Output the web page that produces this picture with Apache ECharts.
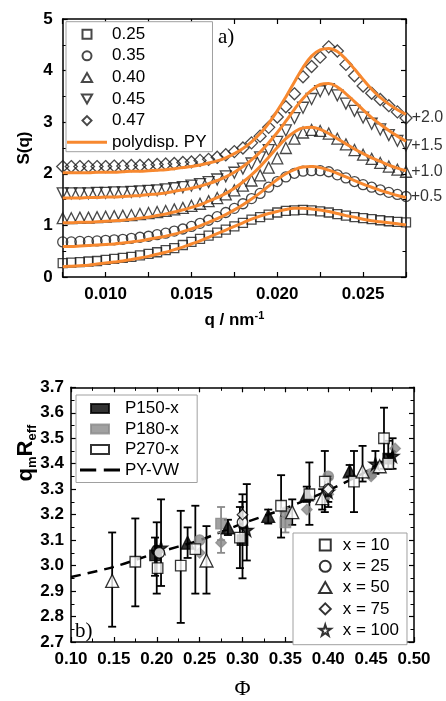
<!DOCTYPE html>
<html><head><meta charset="utf-8">
<script src="https://cdn.jsdelivr.net/npm/echarts@6/dist/echarts.min.js"></script>
<style>html,body{margin:0;padding:0;background:#fff}#c{width:446px;height:701px}</style>
</head><body><div id="c"></div>
<script>
// ---------- Panel a) data ----------
const q = [0.0075,0.0080,0.0085,0.0090,0.0095,0.0100,0.0105,0.0110,0.0115,0.0120,0.0125,0.0130,0.0135,0.0140,0.0145,0.0150,0.0155,0.0160,0.0165,0.0170,0.0175,0.0180,0.0185,0.0190,0.0195,0.0200,0.0205,0.0210,0.0215,0.0220,0.0225,0.0230,0.0235,0.0240,0.0245,0.0250,0.0255,0.0260,0.0265,0.0270,0.0275];
const s025 = [0.27,0.28,0.29,0.30,0.31,0.33,0.35,0.37,0.39,0.42,0.45,0.48,0.52,0.56,0.62,0.68,0.74,0.80,0.86,0.92,0.98,1.05,1.11,1.16,1.21,1.25,1.28,1.29,1.30,1.29,1.27,1.25,1.22,1.19,1.16,1.14,1.12,1.10,1.08,1.07,1.06];
const f025 = [0.20,0.21,0.22,0.23,0.25,0.27,0.29,0.31,0.34,0.37,0.40,0.44,0.48,0.53,0.58,0.64,0.70,0.77,0.84,0.91,0.98,1.05,1.12,1.18,1.23,1.27,1.31,1.33,1.33,1.32,1.30,1.27,1.23,1.19,1.16,1.12,1.09,1.07,1.05,1.03,1.01];
const s035 = [0.68,0.68,0.69,0.69,0.70,0.71,0.72,0.73,0.75,0.77,0.79,0.82,0.85,0.89,0.93,0.98,1.04,1.10,1.17,1.25,1.33,1.42,1.52,1.62,1.74,1.85,1.94,2.01,2.05,2.06,2.06,2.04,1.98,1.92,1.85,1.79,1.74,1.69,1.64,1.60,1.56];
const f035 = [0.59,0.59,0.60,0.61,0.62,0.63,0.64,0.66,0.68,0.70,0.73,0.76,0.79,0.83,0.88,0.93,0.99,1.06,1.13,1.21,1.30,1.40,1.51,1.63,1.76,1.89,2.00,2.08,2.13,2.14,2.12,2.07,2.01,1.94,1.87,1.80,1.74,1.68,1.63,1.58,1.54];
const s040 = [1.14,1.14,1.15,1.15,1.16,1.17,1.18,1.19,1.20,1.22,1.24,1.26,1.28,1.31,1.34,1.38,1.42,1.47,1.53,1.60,1.68,1.77,1.87,1.97,2.12,2.30,2.50,2.68,2.80,2.85,2.83,2.78,2.68,2.57,2.46,2.37,2.29,2.21,2.14,2.08,2.04];
const f040 = [1.05,1.05,1.06,1.06,1.07,1.08,1.09,1.10,1.12,1.14,1.16,1.19,1.22,1.26,1.30,1.35,1.40,1.47,1.54,1.62,1.72,1.84,1.98,2.14,2.32,2.51,2.68,2.81,2.89,2.90,2.86,2.78,2.68,2.58,2.48,2.39,2.31,2.24,2.17,2.11,2.06];
const s045 = [1.62,1.62,1.62,1.62,1.63,1.63,1.64,1.64,1.65,1.66,1.67,1.68,1.70,1.72,1.74,1.77,1.80,1.84,1.89,1.95,2.02,2.10,2.20,2.32,2.46,2.62,2.84,3.08,3.28,3.45,3.60,3.64,3.52,3.36,3.22,3.09,2.97,2.86,2.75,2.64,2.55];
const f045 = [1.53,1.53,1.53,1.54,1.54,1.55,1.55,1.56,1.57,1.58,1.60,1.61,1.63,1.66,1.69,1.72,1.76,1.81,1.87,1.94,2.03,2.14,2.27,2.42,2.60,2.80,3.02,3.25,3.46,3.62,3.73,3.75,3.68,3.55,3.40,3.24,3.09,2.96,2.84,2.73,2.63];
const s047 = [2.14,2.14,2.14,2.14,2.14,2.14,2.15,2.15,2.16,2.16,2.17,2.18,2.19,2.20,2.22,2.23,2.26,2.28,2.32,2.37,2.43,2.50,2.60,2.73,2.90,3.10,3.30,3.55,3.88,4.08,4.26,4.46,4.38,4.12,3.90,3.70,3.56,3.44,3.32,3.20,3.08];
const f047 = [2.02,2.02,2.02,2.02,2.03,2.03,2.03,2.04,2.05,2.05,2.06,2.07,2.08,2.10,2.12,2.14,2.17,2.21,2.25,2.31,2.39,2.49,2.62,2.78,2.98,3.22,3.49,3.78,4.06,4.28,4.40,4.43,4.37,4.22,4.03,3.83,3.64,3.48,3.35,3.24,3.15];
const phiNames = ['0.25','0.35','0.40','0.45','0.47'];
const offsetLabels = ['', '+0.5', '+1.0', '+1.5', '+2.0'];
const fitName = 'polydisp. PY';

// ---------- Panel b) data: [phi, qmReff, errLow, errHigh] ----------
const p270_x10 = [[0.175,3.015,2.84,3.185],[0.201,2.99,null,null],[0.228,3.00,2.775,3.215],[0.245,3.065,2.89,3.235],[0.297,3.11,2.99,3.23],[0.345,3.235,3.11,3.355],[0.378,3.28,3.16,3.405],[0.396,3.33,3.21,3.45],[0.43,3.33,3.21,3.45],[0.465,3.50,3.38,3.62],[0.47,3.40,null,null]];
const p270_x25 = [[0.203,3.05,null,null],[0.30,3.17,null,null],[0.40,3.30,null,null]];
const p270_x50 = [[0.148,2.94,2.76,3.13],[0.258,3.02,2.89,3.155],[0.358,3.21,3.16,3.26],[0.393,3.265,3.22,3.30],[0.44,3.37,3.33,3.47],[0.46,3.39,null,null]];
const p270_x75 = [[0.30,3.20,3.15,3.25],[0.40,3.30,3.25,3.35]];
const p150_x10 = [[0.198,3.04,2.96,3.11],[0.30,3.10,2.95,3.28],[0.47,3.42,3.38,3.49]];
const p150_x25 = [[0.20,3.06,2.89,3.17]];
const p150_x50 = [[0.236,3.09,3.03,3.15],[0.283,3.15,3.12,3.18],[0.33,3.195,3.165,3.22],[0.375,3.28,3.25,3.31],[0.425,3.37,3.35,3.395]];
const p150_x100 = [[0.205,3.07,2.92,3.26],[0.305,3.14,3.02,3.32],[0.40,3.29,3.23,3.34],[0.455,3.40,3.36,3.45],[0.475,3.43,3.38,3.50]];
const p180_x10 = [[0.275,3.165,3.10,3.23],[0.35,3.17,3.13,3.21]];
const p180_x25 = [[0.25,3.10,null,null],[0.35,3.21,null,null],[0.40,3.35,null,null],[0.45,3.36,null,null]];
const p180_x75 = [[0.25,3.05,null,null],[0.275,3.09,3.05,3.13],[0.375,3.22,null,null],[0.40,3.28,null,null],[0.45,3.35,null,null],[0.478,3.46,null,null]];
const pyPhi = [0.10,0.15,0.20,0.25,0.30,0.35,0.40,0.45,0.48];
const pyVal = [2.955,2.995,3.05,3.10,3.165,3.225,3.295,3.38,3.455];
const sampleNames = ['P150-x','P180-x','P270-x'];
const xNames = ['x = 10','x = 25','x = 50','x = 75','x = 100'];

// ---------- styling ----------
const FONT = 'Liberation Sans, Arial, sans-serif';
const SERIF = 'Liberation Serif, DejaVu Serif, serif';
const ORANGE = '#F7882F';
const GRAY = '#8a8a8a';
const STAR = 'path://M50,2 L61,37 L98,37 L68,59 L79,95 L50,73 L21,95 L32,59 L2,37 L39,37 Z';
const RECT = 'path://M0,0 L20,0 L20,10 L0,10 Z';
const SQ = 'path://M0,0 L10,0 L10,10 L0,10 Z';
const CIRC = 'path://M0,50 C0,22 22,0 50,0 C78,0 100,22 100,50 C100,78 78,100 50,100 C22,100 0,78 0,50 Z';
const TRIUP = 'path://M50,0 L100,88 L0,88 Z';
const TRIDN = 'path://M0,0 L100,0 L50,88 Z';
const DIAM = 'path://M50,0 L100,50 L50,100 L0,50 Z';
const LINEI = 'path://M0,0 L40,0 L40,3 L0,3 Z';
const DASHI = 'path://M0,0 L15,0 L15,2.6 L0,2.6 Z M22,0 L37,0 L37,2.6 L22,2.6 Z';
const shapes = {x10:'rect', x25:'circle', x50:'triangle', x75:'diamond', x100:STAR};

const chart = echarts.init(document.getElementById('c'), null, {renderer:'canvas'});

function mkX(grid, min, max, interval, minorSplit, pos, labels, fmt, name, nameGap, nameStyle) {
  return {
    gridIndex: grid, type: 'value', min, max, interval, position: pos,
    axisLine: {onZero: false, lineStyle: {color: '#000', width: 1.5}},
    axisTick: {show: true, inside: true, length: 5, lineStyle: {color: '#000', width: 1.2}},
    minorTick: {show: minorSplit > 0, splitNumber: minorSplit || 5, length: 3.5, lineStyle: {color: '#000', width: 1}},
    splitLine: {show: false}, minorSplitLine: {show: false},
    axisLabel: labels ? {show: true, formatter: fmt, fontSize: 17, fontWeight: 'bold', color: '#000', fontFamily: FONT, margin: labels} : {show: false},
    name: name || '', nameLocation: 'middle', nameGap: nameGap || 0, nameTextStyle: nameStyle || {}
  };
}

const qFmt = v => { const k = Math.round(v * 10000); return (k % 50 === 0) ? (k / 10000).toFixed(3) : ''; };

const xAxis = [
  mkX(0, 0.0075, 0.0275, 0.0025, 0, 'bottom', 9, qFmt, '{a|q / nm}{u|-1}', 33,
    {rich: {a: {fontSize: 17, fontWeight: 'bold', fontFamily: FONT, color: '#000', lineHeight: 20},
            u: {fontSize: 11, fontWeight: 'bold', fontFamily: FONT, color: '#000', verticalAlign: 'top', lineHeight: 20}}}),
  mkX(0, 0.0075, 0.0275, 0.0025, 0, 'top', 0),
  mkX(1, 0.10, 0.50, 0.05, 2, 'bottom', 9, v => v.toFixed(2), 'Φ', 36,
    {fontSize: 22, fontFamily: SERIF, color: '#000'}),
  mkX(1, 0.10, 0.50, 0.05, 2, 'top', 0)
];
const yAxis = [
  mkX(0, 0, 5, 1, 2, 'left', 10, v => String(Math.round(v)), 'S(q)', 24,
    {fontSize: 17, fontWeight: 'bold', fontFamily: FONT, color: '#000'}),
  mkX(0, 0, 5, 1, 2, 'right', 0),
  mkX(1, 2.7, 3.7, 0.1, 2, 'left', 7, v => v.toFixed(1)),
  mkX(1, 2.7, 3.7, 0.1, 2, 'right', 0)
];

const series = [];
// Panel a) scatter + fits
const sData = [s025, s035, s040, s045, s047];
const fData = [f025, f035, f040, f045, f047];
const topSym = ['rect', 'circle', 'triangle', 'triangle', 'diamond'];
const topRot = [0, 0, 0, 180, 0];
const topSize = [9, 10, 11, 11, 12];
sData.forEach((arr, k) => {
  series.push({
    type: 'scatter', name: phiNames[k], xAxisIndex: 0, yAxisIndex: 0,
    symbol: topSym[k], symbolRotate: topRot[k], symbolSize: topSize[k], z: 2,
    itemStyle: {color: 'rgba(255,255,255,0)', borderColor: '#1a1a1a', borderWidth: 1.3},
    emphasis: {disabled: true},
    data: q.map((x, i) => (i === q.length - 1 && offsetLabels[k]) ?
      {value: [x, arr[i]], label: {show: true, formatter: offsetLabels[k], position: 'right', distance: -1,
        fontSize: 16, color: '#000', fontFamily: FONT}} : [x, arr[i]])
  });
});
fData.forEach(arr => {
  series.push({
    type: 'line', name: fitName, xAxisIndex: 0, yAxisIndex: 0, smooth: 0.4, symbol: 'none', z: 4,
    lineStyle: {color: ORANGE, width: 3}, itemStyle: {color: ORANGE},
    data: q.map((x, i) => [x, arr[i]])
  });
});

// Panel b)
series.push({
  type: 'line', name: 'PY-VW', xAxisIndex: 2, yAxisIndex: 2, smooth: 0.3, symbol: 'none', z: 2,
  lineStyle: {color: '#000', width: 2.5, type: [10, 7]}, itemStyle: {color: '#000'},
  data: pyPhi.map((x, i) => [x, pyVal[i]])
});
const groups = [
  {d: p180_x10, shape: 'x10', fill: GRAY, stroke: GRAY, bar: GRAY},
  {d: p180_x25, shape: 'x25', fill: GRAY, stroke: GRAY, bar: GRAY},
  {d: p180_x75, shape: 'x75', fill: GRAY, stroke: GRAY, bar: GRAY},
  {d: p150_x10, shape: 'x10', fill: '#000', stroke: '#000', bar: '#000'},
  {d: p150_x25, shape: 'x25', fill: '#000', stroke: '#000', bar: '#000'},
  {d: p150_x50, shape: 'x50', fill: '#000', stroke: '#000', bar: '#000'},
  {d: p150_x100, shape: 'x100', fill: '#000', stroke: '#000', bar: '#000'},
  {d: p270_x10, shape: 'x10', fill: '#fff', stroke: '#000', bar: '#000'},
  {d: p270_x25, shape: 'x25', fill: '#fff', stroke: '#000', bar: '#000'},
  {d: p270_x50, shape: 'x50', fill: '#fff', stroke: '#000', bar: '#000'},
  {d: p270_x75, shape: 'x75', fill: '#fff', stroke: '#000', bar: '#000'}
];
groups.forEach((g, gi) => {
  series.push({
    type: 'custom', xAxisIndex: 2, yAxisIndex: 2, z: 3 + gi * 0.01, silent: true,
    data: g.d.filter(p => p[2] != null),
    encode: {x: 0, y: [2, 3]},
    renderItem: (params, api) => {
      const x = api.value(0);
      const lo = api.coord([x, api.value(2)]);
      const hi = api.coord([x, api.value(3)]);
      const w = 4, st = {stroke: g.bar, lineWidth: 1.8};
      return {type: 'group', children: [
        {type: 'line', shape: {x1: lo[0], y1: lo[1], x2: hi[0], y2: hi[1]}, style: st},
        {type: 'line', shape: {x1: lo[0] - w, y1: lo[1], x2: lo[0] + w, y2: lo[1]}, style: st},
        {type: 'line', shape: {x1: hi[0] - w, y1: hi[1], x2: hi[0] + w, y2: hi[1]}, style: st}
      ]};
    }
  });
  series.push({
    type: 'scatter', name: 'g' + gi, xAxisIndex: 2, yAxisIndex: 2, z: 5 + gi * 0.01,
    symbol: shapes[g.shape], symbolSize: g.shape === 'x50' ? 13 : (g.shape === 'x100' ? 13 : 10.5),
    itemStyle: {color: g.fill, borderColor: g.stroke, borderWidth: 1.3},
    emphasis: {disabled: true},
    data: g.d.map(p => [p[0], p[1]])
  });
});
// legend-only series
const legFill = ['#000', GRAY, '#fff'];
sampleNames.forEach((n, i) => series.push({type: 'scatter', name: n, xAxisIndex: 2, yAxisIndex: 2, data: [],
  itemStyle: {color: legFill[i], borderColor: i === 2 ? '#000' : legFill[i], borderWidth: 1.3}}));
const xSyms = ['rect', 'circle', 'triangle', 'diamond', STAR];
xNames.forEach((n, i) => series.push({type: 'scatter', name: n, xAxisIndex: 2, yAxisIndex: 2, data: [], symbol: xSyms[i],
  itemStyle: {color: '#fff', borderColor: '#000', borderWidth: 1.5}}));

const legText = {fontSize: 17, color: '#000', fontFamily: FONT};
const topIcons = [SQ, CIRC, TRIUP, TRIDN, DIAM];
const xIcons = [SQ, CIRC, TRIUP, DIAM, STAR];
const option = {
  animation: false,
  backgroundColor: '#fff',
  grid: [
    {left: 62.7, top: 19, width: 343.3, height: 258, containLabel: false},
    {left: 71, top: 387.3, width: 343, height: 259.4, containLabel: false}
  ],
  xAxis, yAxis, series,
  legend: [
    {data: phiNames.map((n, i) => ({name: n, icon: topIcons[i]})).concat([{name: fitName, icon: LINEI}]),
     orient: 'vertical', align: 'left', left: 66, top: 21.7, itemWidth: 40, itemHeight: 9, symbolKeepAspect: true,
     itemGap: 4.6, selectedMode: false, textStyle: legText, borderColor: '#a0a0a0', borderWidth: 1,
     padding: [4, 6, 1, 1], backgroundColor: '#fff', z: 10},
    {data: [{name: 'P150-x', icon: RECT}, {name: 'P180-x', icon: RECT}, {name: 'P270-x', icon: RECT}, {name: 'PY-VW', icon: DASHI}],
     orient: 'vertical', align: 'left', left: 76, top: 395, itemWidth: 40, itemHeight: 9, itemGap: 3.5, selectedMode: false, symbolKeepAspect: true,
     textStyle: legText, borderColor: '#a0a0a0', borderWidth: 1, padding: [5, 18, 4, 4], backgroundColor: '#fff', z: 10},
    {data: xNames.map((n, i) => ({name: n, icon: xIcons[i]})), orient: 'vertical', align: 'left', left: 293, top: 533,
     itemWidth: 25, itemHeight: 11, itemGap: 4.3,
     selectedMode: false, symbolKeepAspect: true, textStyle: legText, borderColor: '#a0a0a0', borderWidth: 1, padding: [3.5, 8, 6, 25],
     backgroundColor: '#fff', z: 10}
  ],
  graphic: [
    {type: 'text', x: 218, y: 37, z: 20, style: {text: 'a)', font: '21px ' + SERIF, fill: '#000',
      align: 'left', verticalAlign: 'middle', textAlign: 'left', textVerticalAlign: 'middle'}},
    {type: 'text', x: 75, y: 631, z: 20, style: {text: 'b)', font: '21px ' + SERIF, fill: '#000',
      align: 'left', verticalAlign: 'middle', textAlign: 'left', textVerticalAlign: 'middle'}},
    {type: 'text', x: 26, y: 453, rotation: Math.PI / 2, z: 20, style: {
      text: '{a|q}{s|m}{a|R}{s|eff}', align: 'center', verticalAlign: 'middle', textAlign: 'center', textVerticalAlign: 'middle',
      rich: {a: {fontSize: 22, fontWeight: 'bold', fontFamily: FONT, fill: '#000', color: '#000', lineHeight: 26},
             s: {fontSize: 13, fontWeight: 'bold', fontFamily: FONT, fill: '#000', color: '#000', lineHeight: 26, verticalAlign: 'bottom'}}}}
  ]
};
chart.setOption(option);
</script></body></html>
